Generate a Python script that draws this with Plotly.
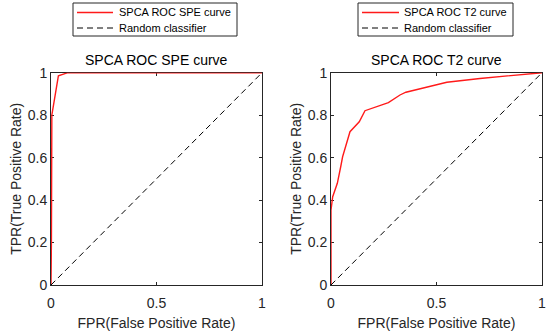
import plotly.graph_objects as go

# SPE ROC curve
spe_fpr = [0, 0.002, 0.004, 0.035, 0.08, 1.0]
spe_tpr = [0, 0.2, 0.8, 0.985, 1.0, 1.0]

# T2 ROC curve
t2_fpr = [0, 0.0, 0.008, 0.03, 0.046, 0.055, 0.09, 0.134, 0.161, 0.272, 0.327, 0.355, 0.549, 0.706, 1.0]
t2_tpr = [0, 0.353, 0.416, 0.479, 0.557, 0.604, 0.722, 0.769, 0.821, 0.859, 0.895, 0.908, 0.955, 0.973, 1.0]

diag = [0, 1]

x_ticks = [0, 0.5, 1]
x_ticktext = ["0", "0.5", "1"]
y_ticks = [0, 0.2, 0.4, 0.6, 0.8, 1]
y_ticktext = ["0", "0.2", "0.4", "0.6", "0.8", "1"]

titles = ["SPCA ROC SPE curve", "SPCA ROC T2 curve"]
legend_names = [["SPCA ROC SPE curve", "Random classifier"],
                ["SPCA ROC T2 curve", "Random classifier"]]

FONT = "Liberation Sans, Arial, sans-serif"
AX = "#262626"
RED = "#ff1a1a"
DASH = "6px,4px"
W, H = 550, 331

fig = go.Figure()
fig.add_trace(go.Scatter(x=spe_fpr, y=spe_tpr, mode="lines", name=legend_names[0][0],
                         line=dict(color=RED, width=1.4), xaxis="x", yaxis="y"))
fig.add_trace(go.Scatter(x=diag, y=diag, mode="lines", name=legend_names[0][1],
                         line=dict(color="#000000", width=1, dash=DASH), xaxis="x", yaxis="y"))
fig.add_trace(go.Scatter(x=t2_fpr, y=t2_tpr, mode="lines", name=legend_names[1][0],
                         line=dict(color=RED, width=1.4), xaxis="x2", yaxis="y2"))
fig.add_trace(go.Scatter(x=diag, y=diag, mode="lines", name=legend_names[1][1],
                         line=dict(color="#000000", width=1, dash=DASH), xaxis="x2", yaxis="y2"))

def xax(domain, anchor):
    return dict(domain=domain, anchor=anchor, range=[0, 1], tickvals=x_ticks, ticktext=x_ticktext,
                showline=True, linecolor=AX, linewidth=1, mirror="ticks", ticks="inside", ticklen=3,
                tickcolor=AX, showgrid=False, zeroline=False, layer="below traces", automargin=False,
                ticklabelstandoff=5,
                tickfont=dict(family=FONT, size=14, color=AX),
                title=dict(text="FPR(False Positive Rate)", font=dict(family=FONT, size=14, color=AX), standoff=9))

def yax(domain, anchor):
    return dict(domain=domain, anchor=anchor, range=[0, 1], tickvals=y_ticks, ticktext=y_ticktext,
                showline=True, linecolor=AX, linewidth=1, mirror="ticks", ticks="inside", ticklen=3,
                tickcolor=AX, showgrid=False, zeroline=False, layer="below traces", automargin=False,
                tickfont=dict(family=FONT, size=14, color=AX),
                title=dict(text="TPR(True Positive Rate)", font=dict(family=FONT, size=14, color=AX), standoff=2))

yd = [(H - 285) / H, (H - 72.7) / H]

def px(x):
    return x / W

def py(y):
    return 1 - y / H

shapes = []
annotations = []
# manual legends: (box x0, box x1, sample x0, sample x1, text x)
legend_geo = [(73, 237, 77, 113, 117), (358, 513, 362, 399, 402)]
for (bx0, bx1, sx0, sx1, tx), names in zip(legend_geo, legend_names):
    shapes.append(dict(type="rect", xref="paper", yref="paper", x0=px(bx0), x1=px(bx1), y0=py(36), y1=py(3),
                       line=dict(color=AX, width=1), fillcolor="white"))
    shapes.append(dict(type="line", xref="paper", yref="paper", x0=px(sx0), x1=px(sx1), y0=py(12.5), y1=py(12.5),
                       line=dict(color=RED, width=1.4)))
    shapes.append(dict(type="line", xref="paper", yref="paper", x0=px(sx0), x1=px(sx1), y0=py(28), y1=py(28),
                       line=dict(color="#000", width=1, dash=DASH)))
    annotations.append(dict(text=names[0], x=px(tx), y=py(12.5), xref="paper", yref="paper", showarrow=False,
                            xanchor="left", yanchor="middle", font=dict(family=FONT, size=11, color="#000")))
    annotations.append(dict(text=names[1], x=px(tx), y=py(28), xref="paper", yref="paper", showarrow=False,
                            xanchor="left", yanchor="middle", font=dict(family=FONT, size=11, color="#000")))

for t, cx in zip(titles, [156.5, 436.5]):
    annotations.append(dict(text=t, x=px(cx), y=py(60), xref="paper", yref="paper", showarrow=False,
                            xanchor="center", yanchor="middle", font=dict(family=FONT, size=14, color="#000")))

fig.update_layout(
    width=W, height=H, margin=dict(l=0, r=0, t=0, b=0, autoexpand=False),
    paper_bgcolor="white", plot_bgcolor="white", showlegend=False,
    xaxis=xax([51 / W, 262 / W], "y"),
    yaxis=yax(yd, "x"),
    xaxis2=xax([331 / W, 542 / W], "y2"),
    yaxis2=yax(yd, "x2"),
    shapes=shapes, annotations=annotations,
)

fig.write_html("out.html", config={"displayModeBar": False},
               post_script="document.body.style.margin='0';document.body.style.padding='0';document.body.style.overflow='hidden';")
